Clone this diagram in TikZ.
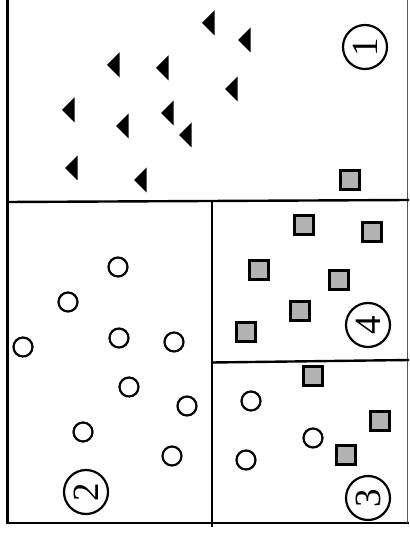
\documentclass[tikz,border=0pt]{standalone}
\usepackage{fontspec}
\setmainfont{Liberation Serif}
\begin{document}
\begin{tikzpicture}[x=1pt,y=-1pt,
  sq/.style={draw=black,fill=gray!60,line width=2.2pt,minimum size=19pt,inner sep=0pt},
  dot/.style={draw=black,line width=2.2pt,circle,minimum size=19pt,inner sep=0pt},
  lab/.style={draw=black,line width=2.2pt,circle,minimum size=44pt,inner sep=0pt,font=\fontsize{37}{37}\selectfont},
  frame/.style={line width=2.4pt,black}]
\useasboundingbox (0,0) rectangle (409,534);
% frame
\draw[frame] (7.5,0) -- (7.5,523) -- (212,523);
\draw[frame] (212,523) -- (409,523);
\draw[line width=1pt,gray!70!black] (407.5,0) -- (407.5,523);
\draw[frame] (7.5,202) -- (409,200);
\draw[frame] (212,201) -- (212,527);
\draw[frame] (212,362.5) -- (409,360);
% triangles
\foreach \x/\y in {202/23,238/40,107/65,156/68,225/89,62/110,161/113,116/126,179/135,65/168,134/180}
  \fill[black] (\x,\y) -- ++(12.5,-12.5) -- ++(0,25) -- cycle;
% labels
\node[lab] (l1) at (365,47) {\rotatebox{90}{1}};
\node[lab] (l4) at (368,325) {\rotatebox{90}{4}};
\node[lab] (l2) at (86,492) {\rotatebox{90}{2}};
\node[lab] (l3) at (368,498) {\rotatebox{90}{3}};
% squares
\foreach \x/\y [count=\i] in {350/180,304/225,372/232,259/270,339/280,300/311,246/332,313/376,380/421,346/455}
  \node[sq] (s\i) at (\x,\y) {};
% circles
\foreach \x/\y [count=\i] in {118/267,68/302,23/347,119/338,174/342,129/387,187/406,83/432,172/456,251/401,313/438,246/460}
  \node[dot] (c\i) at (\x,\y) {};
\end{tikzpicture}
\end{document}
